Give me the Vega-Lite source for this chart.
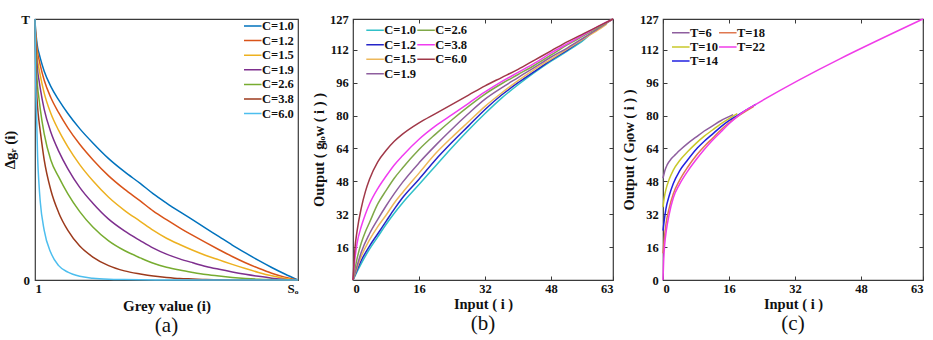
{
"$schema": "https://vega.github.io/schema/vega-lite/v6.json",
"background": "white",
"padding": {"left": 2, "top": 12, "right": 5, "bottom": 0},
"datasets": {
"a": [
{"s":"C=1.0","x":0,"y":1},{"s":"C=1.0","x":0.002,"y":0.96},{"s":"C=1.0","x":0.004,"y":0.94},{"s":"C=1.0","x":0.006,"y":0.92},{"s":"C=1.0","x":0.01,"y":0.89},{"s":"C=1.0","x":0.015,"y":0.87},{"s":"C=1.0","x":0.02,"y":0.85},{"s":"C=1.0","x":0.035,"y":0.8},{"s":"C=1.0","x":0.06,"y":0.742},{"s":"C=1.0","x":0.09,"y":0.69},{"s":"C=1.0","x":0.125,"y":0.638},{"s":"C=1.0","x":0.17,"y":0.58},{"s":"C=1.0","x":0.22,"y":0.525},{"s":"C=1.0","x":0.28,"y":0.465},{"s":"C=1.0","x":0.34,"y":0.415},{"s":"C=1.0","x":0.4,"y":0.37},{"s":"C=1.0","x":0.45,"y":0.33},{"s":"C=1.0","x":0.5,"y":0.295},{"s":"C=1.0","x":0.55,"y":0.262},{"s":"C=1.0","x":0.6,"y":0.23},{"s":"C=1.0","x":0.65,"y":0.198},{"s":"C=1.0","x":0.7,"y":0.166},{"s":"C=1.0","x":0.75,"y":0.134},{"s":"C=1.0","x":0.8,"y":0.104},{"s":"C=1.0","x":0.85,"y":0.075},{"s":"C=1.0","x":0.9,"y":0.048},{"s":"C=1.0","x":0.95,"y":0.023},{"s":"C=1.0","x":1,"y":0},
{"s":"C=1.2","x":0,"y":1},{"s":"C=1.2","x":0.002,"y":0.952},{"s":"C=1.2","x":0.004,"y":0.928},{"s":"C=1.2","x":0.006,"y":0.905},{"s":"C=1.2","x":0.01,"y":0.87},{"s":"C=1.2","x":0.015,"y":0.846},{"s":"C=1.2","x":0.02,"y":0.823},{"s":"C=1.2","x":0.035,"y":0.765},{"s":"C=1.2","x":0.06,"y":0.699},{"s":"C=1.2","x":0.09,"y":0.641},{"s":"C=1.2","x":0.125,"y":0.583},{"s":"C=1.2","x":0.17,"y":0.52},{"s":"C=1.2","x":0.22,"y":0.461},{"s":"C=1.2","x":0.28,"y":0.399},{"s":"C=1.2","x":0.34,"y":0.348},{"s":"C=1.2","x":0.4,"y":0.303},{"s":"C=1.2","x":0.45,"y":0.264},{"s":"C=1.2","x":0.5,"y":0.231},{"s":"C=1.2","x":0.55,"y":0.2},{"s":"C=1.2","x":0.6,"y":0.171},{"s":"C=1.2","x":0.65,"y":0.143},{"s":"C=1.2","x":0.7,"y":0.116},{"s":"C=1.2","x":0.75,"y":0.09},{"s":"C=1.2","x":0.8,"y":0.066},{"s":"C=1.2","x":0.85,"y":0.045},{"s":"C=1.2","x":0.9,"y":0.026},{"s":"C=1.2","x":0.95,"y":0.011},{"s":"C=1.2","x":1,"y":0},
{"s":"C=1.5","x":0,"y":1},{"s":"C=1.5","x":0.002,"y":0.941},{"s":"C=1.5","x":0.004,"y":0.911},{"s":"C=1.5","x":0.006,"y":0.882},{"s":"C=1.5","x":0.01,"y":0.84},{"s":"C=1.5","x":0.015,"y":0.811},{"s":"C=1.5","x":0.02,"y":0.784},{"s":"C=1.5","x":0.035,"y":0.716},{"s":"C=1.5","x":0.06,"y":0.639},{"s":"C=1.5","x":0.09,"y":0.573},{"s":"C=1.5","x":0.125,"y":0.51},{"s":"C=1.5","x":0.17,"y":0.442},{"s":"C=1.5","x":0.22,"y":0.38},{"s":"C=1.5","x":0.28,"y":0.317},{"s":"C=1.5","x":0.34,"y":0.267},{"s":"C=1.5","x":0.4,"y":0.225},{"s":"C=1.5","x":0.45,"y":0.19},{"s":"C=1.5","x":0.5,"y":0.16},{"s":"C=1.5","x":0.55,"y":0.136},{"s":"C=1.5","x":0.6,"y":0.114},{"s":"C=1.5","x":0.65,"y":0.094},{"s":"C=1.5","x":0.7,"y":0.077},{"s":"C=1.5","x":0.75,"y":0.06},{"s":"C=1.5","x":0.8,"y":0.044},{"s":"C=1.5","x":0.85,"y":0.029},{"s":"C=1.5","x":0.9,"y":0.016},{"s":"C=1.5","x":0.95,"y":0.006},{"s":"C=1.5","x":1,"y":0},
{"s":"C=1.9","x":0,"y":1},{"s":"C=1.9","x":0.002,"y":0.925},{"s":"C=1.9","x":0.004,"y":0.889},{"s":"C=1.9","x":0.006,"y":0.853},{"s":"C=1.9","x":0.01,"y":0.801},{"s":"C=1.9","x":0.015,"y":0.767},{"s":"C=1.9","x":0.02,"y":0.734},{"s":"C=1.9","x":0.035,"y":0.654},{"s":"C=1.9","x":0.06,"y":0.567},{"s":"C=1.9","x":0.09,"y":0.494},{"s":"C=1.9","x":0.125,"y":0.426},{"s":"C=1.9","x":0.17,"y":0.355},{"s":"C=1.9","x":0.22,"y":0.294},{"s":"C=1.9","x":0.28,"y":0.233},{"s":"C=1.9","x":0.34,"y":0.188},{"s":"C=1.9","x":0.4,"y":0.151},{"s":"C=1.9","x":0.45,"y":0.122},{"s":"C=1.9","x":0.5,"y":0.099},{"s":"C=1.9","x":0.55,"y":0.081},{"s":"C=1.9","x":0.6,"y":0.066},{"s":"C=1.9","x":0.65,"y":0.052},{"s":"C=1.9","x":0.7,"y":0.041},{"s":"C=1.9","x":0.75,"y":0.031},{"s":"C=1.9","x":0.8,"y":0.022},{"s":"C=1.9","x":0.85,"y":0.014},{"s":"C=1.9","x":0.9,"y":0.007},{"s":"C=1.9","x":0.95,"y":0.002},{"s":"C=1.9","x":1,"y":0},
{"s":"C=2.6","x":0,"y":1},{"s":"C=2.6","x":0.002,"y":0.899},{"s":"C=2.6","x":0.004,"y":0.851},{"s":"C=2.6","x":0.006,"y":0.805},{"s":"C=2.6","x":0.01,"y":0.739},{"s":"C=2.6","x":0.015,"y":0.696},{"s":"C=2.6","x":0.02,"y":0.655},{"s":"C=2.6","x":0.035,"y":0.56},{"s":"C=2.6","x":0.06,"y":0.46},{"s":"C=2.6","x":0.09,"y":0.395},{"s":"C=2.6","x":0.125,"y":0.33},{"s":"C=2.6","x":0.17,"y":0.262},{"s":"C=2.6","x":0.22,"y":0.203},{"s":"C=2.6","x":0.28,"y":0.15},{"s":"C=2.6","x":0.34,"y":0.113},{"s":"C=2.6","x":0.4,"y":0.085},{"s":"C=2.6","x":0.45,"y":0.064},{"s":"C=2.6","x":0.5,"y":0.049},{"s":"C=2.6","x":0.55,"y":0.038},{"s":"C=2.6","x":0.6,"y":0.029},{"s":"C=2.6","x":0.65,"y":0.021},{"s":"C=2.6","x":0.7,"y":0.015},{"s":"C=2.6","x":0.75,"y":0.01},{"s":"C=2.6","x":0.8,"y":0.006},{"s":"C=2.6","x":0.85,"y":0.003},{"s":"C=2.6","x":0.9,"y":0.0015},{"s":"C=2.6","x":0.95,"y":0.0005},{"s":"C=2.6","x":1,"y":0},
{"s":"C=3.8","x":0,"y":1},{"s":"C=3.8","x":0.002,"y":0.856},{"s":"C=3.8","x":0.004,"y":0.79},{"s":"C=3.8","x":0.006,"y":0.728},{"s":"C=3.8","x":0.01,"y":0.66},{"s":"C=3.8","x":0.015,"y":0.61},{"s":"C=3.8","x":0.02,"y":0.57},{"s":"C=3.8","x":0.035,"y":0.46},{"s":"C=3.8","x":0.06,"y":0.345},{"s":"C=3.8","x":0.09,"y":0.258},{"s":"C=3.8","x":0.125,"y":0.19},{"s":"C=3.8","x":0.17,"y":0.13},{"s":"C=3.8","x":0.22,"y":0.088},{"s":"C=3.8","x":0.28,"y":0.055},{"s":"C=3.8","x":0.34,"y":0.035},{"s":"C=3.8","x":0.4,"y":0.023},{"s":"C=3.8","x":0.45,"y":0.015},{"s":"C=3.8","x":0.5,"y":0.01},{"s":"C=3.8","x":0.55,"y":0.006},{"s":"C=3.8","x":0.6,"y":0.004},{"s":"C=3.8","x":0.65,"y":0.002},{"s":"C=3.8","x":0.7,"y":0.001},{"s":"C=3.8","x":0.8,"y":0.0002},{"s":"C=3.8","x":1,"y":0},
{"s":"C=6.0","x":0,"y":1},{"s":"C=6.0","x":0.002,"y":0.8},{"s":"C=6.0","x":0.004,"y":0.7},{"s":"C=6.0","x":0.006,"y":0.63},{"s":"C=6.0","x":0.01,"y":0.47},{"s":"C=6.0","x":0.015,"y":0.37},{"s":"C=6.0","x":0.02,"y":0.3},{"s":"C=6.0","x":0.035,"y":0.19},{"s":"C=6.0","x":0.06,"y":0.105},{"s":"C=6.0","x":0.09,"y":0.055},{"s":"C=6.0","x":0.125,"y":0.03},{"s":"C=6.0","x":0.17,"y":0.014},{"s":"C=6.0","x":0.22,"y":0.007},{"s":"C=6.0","x":0.28,"y":0.003},{"s":"C=6.0","x":0.34,"y":0.0015},{"s":"C=6.0","x":0.4,"y":0.0007},{"s":"C=6.0","x":0.5,"y":0.0002},{"s":"C=6.0","x":1,"y":0}
],
"b": [
{"s":"C=1.0","x":0,"y":0},{"s":"C=1.0","x":1,"y":4},{"s":"C=1.0","x":2,"y":8},{"s":"C=1.0","x":4,"y":15},{"s":"C=1.0","x":6,"y":21},{"s":"C=1.0","x":8,"y":27},{"s":"C=1.0","x":10,"y":32.5},{"s":"C=1.0","x":12,"y":37.5},{"s":"C=1.0","x":16,"y":46.5},{"s":"C=1.0","x":20,"y":55.5},{"s":"C=1.0","x":24,"y":64.5},{"s":"C=1.0","x":28,"y":73},{"s":"C=1.0","x":32,"y":81},{"s":"C=1.0","x":36,"y":88.5},{"s":"C=1.0","x":40,"y":95},{"s":"C=1.0","x":44,"y":101},{"s":"C=1.0","x":48,"y":106.5},{"s":"C=1.0","x":52,"y":111.5},{"s":"C=1.0","x":56,"y":117},{"s":"C=1.0","x":57.75,"y":120},
{"s":"C=1.2","x":0,"y":0},{"s":"C=1.2","x":1,"y":5},{"s":"C=1.2","x":2,"y":9.5},{"s":"C=1.2","x":4,"y":16.5},{"s":"C=1.2","x":6,"y":22.5},{"s":"C=1.2","x":8,"y":28.5},{"s":"C=1.2","x":10,"y":34.5},{"s":"C=1.2","x":12,"y":40},{"s":"C=1.2","x":16,"y":49},{"s":"C=1.2","x":20,"y":58.5},{"s":"C=1.2","x":24,"y":67},{"s":"C=1.2","x":28,"y":75},{"s":"C=1.2","x":32,"y":83},{"s":"C=1.2","x":36,"y":90},{"s":"C=1.2","x":40,"y":96},{"s":"C=1.2","x":44,"y":101.5},{"s":"C=1.2","x":48,"y":107},{"s":"C=1.2","x":52,"y":112},{"s":"C=1.2","x":56,"y":117.5},{"s":"C=1.2","x":59.5,"y":122.5},
{"s":"C=1.5","x":0,"y":0},{"s":"C=1.5","x":1,"y":6},{"s":"C=1.5","x":2,"y":11.5},{"s":"C=1.5","x":4,"y":19.5},{"s":"C=1.5","x":6,"y":26},{"s":"C=1.5","x":8,"y":31.5},{"s":"C=1.5","x":10,"y":37.5},{"s":"C=1.5","x":12,"y":42.5},{"s":"C=1.5","x":16,"y":52},{"s":"C=1.5","x":20,"y":61.5},{"s":"C=1.5","x":24,"y":69.5},{"s":"C=1.5","x":28,"y":77},{"s":"C=1.5","x":32,"y":84.5},{"s":"C=1.5","x":36,"y":91},{"s":"C=1.5","x":40,"y":97},{"s":"C=1.5","x":44,"y":102.5},{"s":"C=1.5","x":48,"y":107.5},{"s":"C=1.5","x":52,"y":112.5},{"s":"C=1.5","x":56,"y":117.5},{"s":"C=1.5","x":60,"y":122.5},{"s":"C=1.5","x":61.5,"y":124.5},
{"s":"C=1.9","x":0,"y":0},{"s":"C=1.9","x":1,"y":7},{"s":"C=1.9","x":2,"y":13.5},{"s":"C=1.9","x":4,"y":22.5},{"s":"C=1.9","x":6,"y":29.5},{"s":"C=1.9","x":8,"y":36},{"s":"C=1.9","x":10,"y":42},{"s":"C=1.9","x":12,"y":47.5},{"s":"C=1.9","x":16,"y":57},{"s":"C=1.9","x":20,"y":65.5},{"s":"C=1.9","x":24,"y":73.5},{"s":"C=1.9","x":28,"y":81},{"s":"C=1.9","x":32,"y":88},{"s":"C=1.9","x":36,"y":93.5},{"s":"C=1.9","x":40,"y":98.5},{"s":"C=1.9","x":44,"y":103.5},{"s":"C=1.9","x":48,"y":108.5},{"s":"C=1.9","x":52,"y":113},{"s":"C=1.9","x":56,"y":118},{"s":"C=1.9","x":60,"y":123},{"s":"C=1.9","x":63,"y":127},
{"s":"C=2.6","x":0,"y":0},{"s":"C=2.6","x":1,"y":10.5},{"s":"C=2.6","x":2,"y":18},{"s":"C=2.6","x":3,"y":23.5},{"s":"C=2.6","x":4,"y":28},{"s":"C=2.6","x":6,"y":37},{"s":"C=2.6","x":8,"y":43.5},{"s":"C=2.6","x":10,"y":49.5},{"s":"C=2.6","x":12,"y":54.5},{"s":"C=2.6","x":16,"y":63.5},{"s":"C=2.6","x":20,"y":71},{"s":"C=2.6","x":24,"y":78},{"s":"C=2.6","x":28,"y":84.5},{"s":"C=2.6","x":32,"y":90.5},{"s":"C=2.6","x":36,"y":95.5},{"s":"C=2.6","x":40,"y":100},{"s":"C=2.6","x":44,"y":104.5},{"s":"C=2.6","x":48,"y":109.5},{"s":"C=2.6","x":52,"y":114.5},{"s":"C=2.6","x":56,"y":119},{"s":"C=2.6","x":60,"y":123.5},{"s":"C=2.6","x":63,"y":127},
{"s":"C=3.8","x":0,"y":0},{"s":"C=3.8","x":0.5,"y":11},{"s":"C=3.8","x":1,"y":18},{"s":"C=3.8","x":2,"y":26},{"s":"C=3.8","x":3,"y":32},{"s":"C=3.8","x":4,"y":37},{"s":"C=3.8","x":6,"y":44.5},{"s":"C=3.8","x":8,"y":50.5},{"s":"C=3.8","x":10,"y":56},{"s":"C=3.8","x":12,"y":60.5},{"s":"C=3.8","x":16,"y":68.5},{"s":"C=3.8","x":20,"y":75},{"s":"C=3.8","x":24,"y":80.5},{"s":"C=3.8","x":28,"y":86},{"s":"C=3.8","x":32,"y":91.5},{"s":"C=3.8","x":36,"y":96.5},{"s":"C=3.8","x":40,"y":101},{"s":"C=3.8","x":44,"y":105.5},{"s":"C=3.8","x":48,"y":110.5},{"s":"C=3.8","x":52,"y":115},{"s":"C=3.8","x":56,"y":119.5},{"s":"C=3.8","x":60,"y":124},{"s":"C=3.8","x":63,"y":127},
{"s":"C=6.0","x":0,"y":0},{"s":"C=6.0","x":0.5,"y":16},{"s":"C=6.0","x":1,"y":24},{"s":"C=6.0","x":2,"y":35},{"s":"C=6.0","x":3,"y":43},{"s":"C=6.0","x":4,"y":49},{"s":"C=6.0","x":6,"y":57.5},{"s":"C=6.0","x":8,"y":63},{"s":"C=6.0","x":10,"y":67.5},{"s":"C=6.0","x":12,"y":71},{"s":"C=6.0","x":16,"y":76.5},{"s":"C=6.0","x":20,"y":81},{"s":"C=6.0","x":24,"y":85.5},{"s":"C=6.0","x":28,"y":90},{"s":"C=6.0","x":32,"y":94.5},{"s":"C=6.0","x":36,"y":98.5},{"s":"C=6.0","x":40,"y":102.5},{"s":"C=6.0","x":44,"y":107},{"s":"C=6.0","x":48,"y":111.5},{"s":"C=6.0","x":52,"y":116},{"s":"C=6.0","x":56,"y":120},{"s":"C=6.0","x":60,"y":124},{"s":"C=6.0","x":63,"y":127}
],
"c": [
{"s":"T=6","x":0,"y":49.5},{"s":"T=6","x":0.5,"y":53.5},{"s":"T=6","x":1,"y":56},{"s":"T=6","x":2,"y":59},{"s":"T=6","x":3,"y":61},{"s":"T=6","x":4,"y":63},{"s":"T=6","x":6,"y":66.5},{"s":"T=6","x":8,"y":69.5},{"s":"T=6","x":10,"y":72.5},{"s":"T=6","x":12,"y":75},{"s":"T=6","x":14,"y":77.5},{"s":"T=6","x":16,"y":79.5},{"s":"T=6","x":17,"y":80.5},
{"s":"T=10","x":0,"y":35.5},{"s":"T=10","x":0.3,"y":40},{"s":"T=10","x":0.7,"y":44},{"s":"T=10","x":1.5,"y":49},{"s":"T=10","x":2.5,"y":53.5},{"s":"T=10","x":4,"y":58},{"s":"T=10","x":6,"y":62.5},{"s":"T=10","x":8,"y":66.5},{"s":"T=10","x":10,"y":70},{"s":"T=10","x":12,"y":73},{"s":"T=10","x":14,"y":76},{"s":"T=10","x":16,"y":78.5},{"s":"T=10","x":18,"y":81},
{"s":"T=14","x":0,"y":24},{"s":"T=14","x":0.3,"y":29},{"s":"T=14","x":0.7,"y":34.5},{"s":"T=14","x":1.5,"y":41},{"s":"T=14","x":2.5,"y":47},{"s":"T=14","x":4,"y":53},{"s":"T=14","x":6,"y":58.5},{"s":"T=14","x":8,"y":63.5},{"s":"T=14","x":10,"y":67.5},{"s":"T=14","x":12,"y":71},{"s":"T=14","x":14,"y":74.5},{"s":"T=14","x":16,"y":77.5},{"s":"T=14","x":18,"y":80},{"s":"T=14","x":20,"y":82.5},{"s":"T=14","x":22.5,"y":85.5},
{"s":"T=18","x":0,"y":13},{"s":"T=18","x":0.3,"y":20},{"s":"T=18","x":0.7,"y":27},{"s":"T=18","x":1.5,"y":35},{"s":"T=18","x":2.5,"y":42},{"s":"T=18","x":4,"y":48.5},{"s":"T=18","x":6,"y":55},{"s":"T=18","x":8,"y":60.5},{"s":"T=18","x":10,"y":65},{"s":"T=18","x":12,"y":69},{"s":"T=18","x":14,"y":73},{"s":"T=18","x":16,"y":76.5},{"s":"T=18","x":18,"y":79.5},{"s":"T=18","x":20,"y":82},{"s":"T=18","x":22,"y":84.5},
{"s":"T=22","x":0,"y":0},{"s":"T=22","x":0.15,"y":9},{"s":"T=22","x":0.4,"y":17},{"s":"T=22","x":0.8,"y":24},{"s":"T=22","x":1.5,"y":32},{"s":"T=22","x":2.5,"y":40},{"s":"T=22","x":4,"y":46.5},{"s":"T=22","x":6,"y":53},{"s":"T=22","x":8,"y":58.5},{"s":"T=22","x":10,"y":63.5},{"s":"T=22","x":12,"y":68},{"s":"T=22","x":14,"y":72},{"s":"T=22","x":16,"y":76},{"s":"T=22","x":18,"y":79.5},{"s":"T=22","x":20,"y":82.5},{"s":"T=22","x":22.5,"y":85.5},{"s":"T=22","x":63,"y":127}
]
},
"config": {
"font": "Liberation Serif",
"view": {"stroke": "#3a3a3a", "strokeWidth": 1.2},
"axis": {"grid": false, "domain": false, "ticks": false, "labelFont": "Liberation Serif", "labelFontSize": 12.5, "labelFontWeight": "bold", "labelColor": "#111111", "titleFont": "Liberation Serif", "titleFontSize": 14.5, "titleFontWeight": "bold", "titleColor": "#111111", "tickColor": "#3a3a3a", "tickWidth": 1},
"legend": {"labelFont": "Liberation Serif", "labelFontSize": 12.5, "labelFontWeight": "bold", "labelColor": "#111111", "symbolType": "M-1,0H1.7", "symbolSize": 169, "symbolStrokeWidth": 1.5, "labelOffset": 4, "padding": 0, "offset": 0, "rowPadding": 1.5, "clipHeight": 13},
"title": {"font": "Liberation Serif", "fontSize": 21, "fontWeight": "normal", "color": "#111111", "orient": "bottom", "offset": 2},
"line": {"strokeWidth": 1.5}
},
"spacing": 55,
"bounds": "flush",
"resolve": {"scale": {"x": "independent", "y": "independent", "color": "independent"}, "legend": {"color": "independent"}},
"hconcat": [
{
"width": 263, "height": 261,
"data": {"name": "a"},
"title": {"text": "(a)"},
"mark": {"type": "line", "interpolate": "monotone", "strokeWidth": 1.5},
"encoding": {
"x": {"field": "x", "type": "quantitative", "scale": {"domain": [0, 1], "nice": false, "zero": false}, "axis": {"values": [0, 1], "labelExpr": "datum.value == 0 ? '1' : 'Sₒ'", "title": "Grey value (i)", "titleFontSize": 15, "labelFontSize": 13, "labelPadding": 2.5, "titlePadding": 2.5}},
"y": {"field": "y", "type": "quantitative", "scale": {"domain": [0, 1], "nice": false}, "axis": {"values": [0, 1], "labelExpr": "datum.value == 0 ? '0' : 'T'", "title": "Δgᵣ (i)", "titleFontSize": 15, "labelFontSize": 13, "labelPadding": 5.5, "titlePadding": 3}},
"color": {"field": "s", "type": "nominal", "scale": {"domain": ["C=1.0", "C=1.2", "C=1.5", "C=1.9", "C=2.6", "C=3.8", "C=6.0"], "range": ["#0072BD", "#D95319", "#EDB120", "#7E2F8E", "#77AC30", "#9C3A1C", "#4DBEEE"]}, "legend": {"title": null, "orient": "none", "legendX": 208, "legendY": 0.5, "rowPadding": 1.6}}
}
},
{
"spacing": 50,
"bounds": "flush",
"resolve": {"scale": {"x": "independent", "y": "independent", "color": "independent"}, "legend": {"color": "independent"}},
"hconcat": [
{
"width": 260, "height": 261,
"data": {"name": "b"},
"title": {"text": "(b)"},
"layer": [
{
"mark": {"type": "line", "interpolate": "monotone", "strokeWidth": 1.5},
"encoding": {
"x": {"field": "x", "type": "quantitative", "scale": {"domain": [0, 63], "nice": false}, "axis": {"values": [0, 16, 32, 48, 63], "title": "Input ( i )", "ticks": true, "tickSize": -4, "labelPadding": 6.5, "titlePadding": 2.5}},
"y": {"field": "y", "type": "quantitative", "scale": {"domain": [0, 127], "nice": false}, "axis": {"values": [16, 32, 48, 64, 80, 96, 112, 127], "title": "Output ( gₗₒw ( i ) )", "ticks": true, "tickSize": -4, "labelPadding": 8.7, "titlePadding": 3}},
"color": {"field": "s", "type": "nominal", "scale": {"domain": ["C=1.0", "C=1.2", "C=1.5", "C=1.9", "C=2.6", "C=3.8", "C=6.0"], "range": ["#30C0C8", "#2424C8", "#EDB85A", "#8E5E9E", "#7FA848", "#F03CF0", "#A03848"]}, "legend": {"title": null, "orient": "none", "legendX": 12.3, "legendY": 4.8, "columns": 2, "columnPadding": -5, "rowPadding": 1.5}}
}
},
{
"mark": {"type": "line", "opacity": 0},
"encoding": {
"x": {"field": "x", "type": "quantitative", "scale": {"domain": [0, 63], "nice": false}, "axis": {"orient": "top", "values": [0, 16, 32, 48, 63], "labels": false, "title": null, "ticks": true, "tickSize": -4}},
"y": {"field": "y", "type": "quantitative", "scale": {"domain": [0, 127], "nice": false}, "axis": {"orient": "right", "values": [16, 32, 48, 64, 80, 96, 112, 127], "labels": false, "title": null, "ticks": true, "tickSize": -4}}
}
}
],
"resolve": {"axis": {"x": "independent", "y": "independent"}}
},
{
"width": 260, "height": 261,
"data": {"name": "c"},
"title": {"text": "(c)"},
"layer": [
{
"mark": {"type": "line", "interpolate": "monotone", "strokeWidth": 1.5},
"encoding": {
"x": {"field": "x", "type": "quantitative", "scale": {"domain": [0, 63], "nice": false}, "axis": {"values": [0, 16, 32, 48, 63], "title": "Input ( i )", "ticks": true, "tickSize": -4, "labelPadding": 6.5, "titlePadding": 2.5}},
"y": {"field": "y", "type": "quantitative", "scale": {"domain": [0, 127], "nice": false}, "axis": {"values": [0, 16, 32, 48, 64, 80, 96, 112, 127], "title": "Output ( Gₗow ( i ) )", "ticks": true, "tickSize": -4, "labelPadding": 8.7, "titlePadding": 3}},
"color": {"field": "s", "type": "nominal", "scale": {"domain": ["T=6", "T=10", "T=14", "T=18", "T=22"], "range": ["#8E5E9E", "#C8C82A", "#2020E0", "#E07850", "#F03CE8"]}, "legend": {"title": null, "orient": "none", "legendX": 8, "legendY": 7.2, "columns": 2, "columnPadding": -1.7, "rowPadding": 1.2}}
}
},
{
"mark": {"type": "line", "opacity": 0},
"encoding": {
"x": {"field": "x", "type": "quantitative", "scale": {"domain": [0, 63], "nice": false}, "axis": {"orient": "top", "values": [0, 16, 32, 48, 63], "labels": false, "title": null, "ticks": true, "tickSize": -4}},
"y": {"field": "y", "type": "quantitative", "scale": {"domain": [0, 127], "nice": false}, "axis": {"orient": "right", "values": [0, 16, 32, 48, 64, 80, 96, 112, 127], "labels": false, "title": null, "ticks": true, "tickSize": -4}}
}
}
],
"resolve": {"axis": {"x": "independent", "y": "independent"}}
}
]
}
]
}
